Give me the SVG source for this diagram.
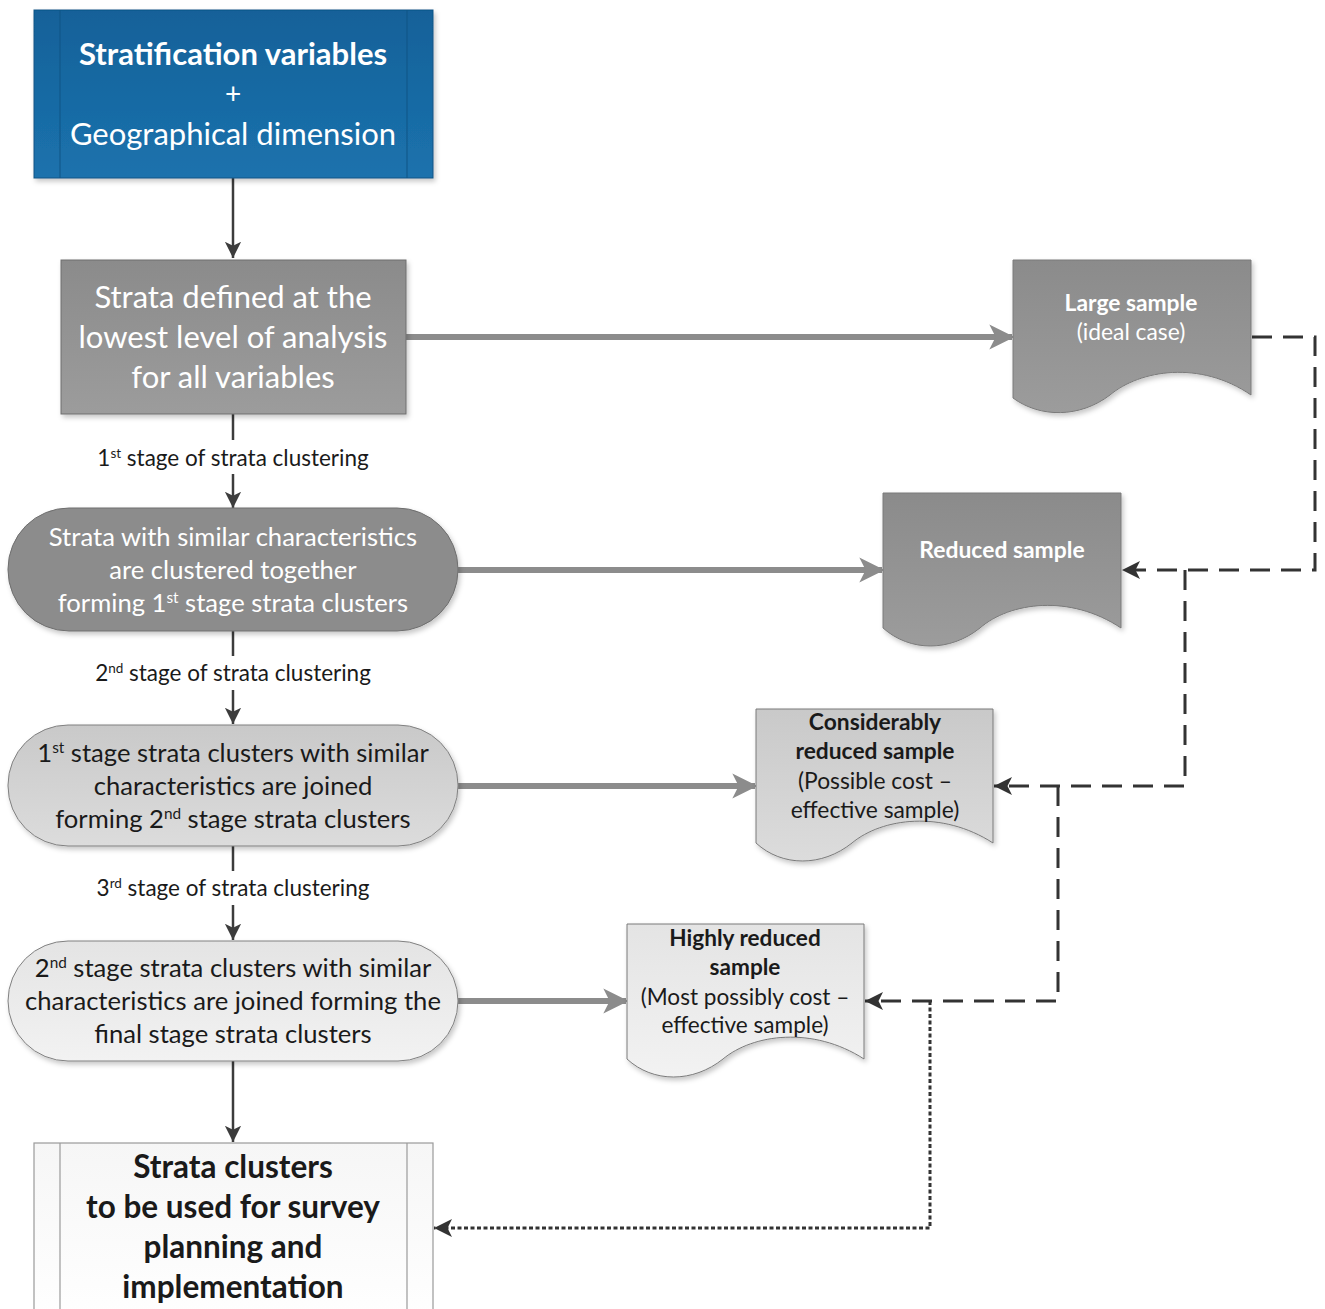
<svg xmlns="http://www.w3.org/2000/svg" width="1325" height="1309" viewBox="0 0 1325 1309">
<style>
.t{font-family:Lato,"Open Sans","Liberation Sans",sans-serif;text-anchor:middle}
.w{fill:#ffffff}
.k{fill:#1a1a1a}
.b{font-weight:bold}
.lbl{font-size:22.5px;fill:#1a1a1a}
.sup{font-size:60%}
.dk{stroke:#3c3c3c;stroke-width:2.5;fill:none}
.gr{stroke:#8c8c8c;stroke-width:6;fill:none}
.dash1{stroke:#333;stroke-width:3;fill:none;stroke-dasharray:20 11}
.dash2{stroke:#333;stroke-width:3;fill:none;stroke-dasharray:4 2.5}
</style>
<defs>
<linearGradient id="gBlue" x1="0" y1="0" x2="0" y2="1"><stop offset="0" stop-color="#156199"/><stop offset="1" stop-color="#1b72ad"/></linearGradient>
<linearGradient id="gGray" x1="0" y1="0" x2="0" y2="1"><stop offset="0" stop-color="#8b8b8b"/><stop offset="1" stop-color="#9c9c9c"/></linearGradient>
<linearGradient id="gLight" x1="0" y1="0" x2="0" y2="1"><stop offset="0" stop-color="#c9c9c9"/><stop offset="1" stop-color="#dcdcdc"/></linearGradient>
<linearGradient id="gLighter" x1="0" y1="0" x2="0" y2="1"><stop offset="0" stop-color="#e4e4e4"/><stop offset="1" stop-color="#f2f2f2"/></linearGradient>
<linearGradient id="gWhite" x1="0" y1="0" x2="0" y2="1"><stop offset="0" stop-color="#f6f6f6"/><stop offset="1" stop-color="#ffffff"/></linearGradient>
<filter id="sh" x="-5%" y="-5%" width="115%" height="120%"><feDropShadow dx="2" dy="3" stdDeviation="2.5" flood-color="#000" flood-opacity="0.22"/></filter>
<marker id="ah" viewBox="0 0 10 10" refX="10" refY="5" markerWidth="6.5" markerHeight="6.5" markerUnits="strokeWidth" orient="auto"><path d="M0,0 L10,5 L0,10 L2.5,5 Z" fill="#3c3c3c"/></marker>
<marker id="ahg" viewBox="0 0 10 10" refX="9" refY="5" markerWidth="5" markerHeight="4.2" markerUnits="strokeWidth" orient="auto"><path d="M0,0 L10,5 L0,10 L2.5,5 Z" fill="#8c8c8c"/></marker>
<marker id="ahd" viewBox="0 0 10 10" refX="10" refY="5" markerWidth="6" markerHeight="6" markerUnits="strokeWidth" orient="auto"><path d="M0,0 L10,5 L0,10 L2.5,5 Z" fill="#333"/></marker>
</defs>

<g id="connectors">
<line class="dk" x1="233" y1="178" x2="233" y2="258" marker-end="url(#ah)"/>
<line class="dk" x1="233" y1="414" x2="233" y2="440"/>
<line class="dk" x1="233" y1="474" x2="233" y2="508" marker-end="url(#ah)"/>
<line class="dk" x1="233" y1="631" x2="233" y2="656"/>
<line class="dk" x1="233" y1="690" x2="233" y2="724" marker-end="url(#ah)"/>
<line class="dk" x1="233" y1="846" x2="233" y2="871"/>
<line class="dk" x1="233" y1="905" x2="233" y2="940" marker-end="url(#ah)"/>
<line class="dk" x1="233" y1="1061" x2="233" y2="1142" marker-end="url(#ah)"/>
<line class="gr" x1="406" y1="337" x2="1012" y2="337" marker-end="url(#ahg)"/>
<line class="gr" x1="458" y1="570" x2="882" y2="570" marker-end="url(#ahg)"/>
<line class="gr" x1="458" y1="786" x2="755" y2="786" marker-end="url(#ahg)"/>
<line class="gr" x1="458" y1="1001" x2="626" y2="1001" marker-end="url(#ahg)"/>
<path class="dash1" d="M1252,337 H1315 V570 H1122" marker-end="url(#ahd)"/>
<path class="dash1" d="M1185,570 V786 H994" marker-end="url(#ahd)"/>
<path class="dash1" d="M1058,786 V1001 H865" marker-end="url(#ahd)"/>
<path class="dash2" d="M930,1001 V1228 H434" marker-end="url(#ahd)"/>
</g>

<g id="n_top">
<rect x="34" y="10" width="399" height="168" fill="url(#gBlue)" stroke="#0f5585" stroke-width="1" filter="url(#sh)"/>
<line x1="60" y1="10" x2="60" y2="178" stroke="#0f5585" stroke-width="1"/>
<line x1="407" y1="10" x2="407" y2="178" stroke="#0f5585" stroke-width="1"/>
<text class="t w b" x="233" y="65" font-size="31">Stratification variables</text>
<text class="t w" x="233" y="104" font-size="28">+</text>
<text class="t w" x="233" y="145" font-size="31">Geographical dimension</text>
</g>

<g id="n_strata">
<rect x="61" y="260" width="345" height="154" fill="url(#gGray)" stroke="#6e6e6e" stroke-width="1" filter="url(#sh)"/>
<text class="t w" x="233" y="308" font-size="31">Strata defined at the</text>
<text class="t w" x="233" y="348" font-size="31">lowest level of analysis</text>
<text class="t w" x="233" y="388" font-size="31">for all variables</text>
</g>

<text class="t lbl" x="233" y="466">1<tspan class="sup" baseline-shift="super">st</tspan> stage of strata clustering</text>
<text class="t lbl" x="233" y="681">2<tspan class="sup" baseline-shift="super">nd</tspan> stage of strata clustering</text>
<text class="t lbl" x="233" y="896">3<tspan class="sup" baseline-shift="super">rd</tspan> stage of strata clustering</text>

<g id="n_cluster1">
<rect x="8" y="508" width="450" height="123" rx="61" ry="61" fill="#8c8c8c" stroke="#6e6e6e" stroke-width="1" filter="url(#sh)"/>
<text class="t w" x="233" y="546" font-size="25.6">Strata with similar characteristics</text>
<text class="t w" x="233" y="579" font-size="25.6">are clustered together</text>
<text class="t w" x="233" y="612" font-size="25.6">forming 1<tspan class="sup" baseline-shift="super">st</tspan> stage strata clusters</text>
</g>

<g id="n_cluster2">
<rect x="8" y="725" width="450" height="121" rx="60" ry="60" fill="url(#gLight)" stroke="#808080" stroke-width="1" filter="url(#sh)"/>
<text class="t k" x="233" y="762" font-size="25.6">1<tspan class="sup" baseline-shift="super">st</tspan> stage strata clusters with similar</text>
<text class="t k" x="233" y="795" font-size="25.6">characteristics are joined</text>
<text class="t k" x="233" y="828" font-size="25.6">forming 2<tspan class="sup" baseline-shift="super">nd</tspan> stage strata clusters</text>
</g>

<g id="n_cluster3">
<rect x="8" y="941" width="450" height="120" rx="60" ry="60" fill="url(#gLighter)" stroke="#808080" stroke-width="1" filter="url(#sh)"/>
<text class="t k" x="233" y="977" font-size="25.6">2<tspan class="sup" baseline-shift="super">nd</tspan> stage strata clusters with similar</text>
<text class="t k" x="233" y="1010" font-size="25.6">characteristics are joined forming the</text>
<text class="t k" x="233" y="1043" font-size="25.6">final stage strata clusters</text>
</g>

<g id="n_final">
<rect x="34" y="1143" width="399" height="180" fill="url(#gWhite)" stroke="#9a9a9a" stroke-width="1.2"/>
<line x1="60" y1="1143" x2="60" y2="1309" stroke="#9a9a9a" stroke-width="1.2"/>
<line x1="407" y1="1143" x2="407" y2="1309" stroke="#9a9a9a" stroke-width="1.2"/>
<text class="t k b" x="233" y="1178" font-size="31.5">Strata clusters</text>
<text class="t k b" x="233" y="1218" font-size="31.5">to be used for survey</text>
<text class="t k b" x="233" y="1258" font-size="31.5">planning and</text>
<text class="t k b" x="233" y="1298" font-size="31.5">implementation</text>
</g>

<g id="n_large">
<path d="M1013,260 H1251 V395 C1200,360 1140,370 1110,395 C1080,418 1040,418 1013,398 Z" fill="url(#gGray)" stroke="#7a7a7a" stroke-width="1" filter="url(#sh)"/>
<text class="t w b" x="1131" y="311" font-size="22.8">Large sample</text>
<text class="t w" x="1131" y="340" font-size="22.8">(ideal case)</text>
</g>

<g id="n_reduced">
<path d="M883,493 H1121 V628 C1070,594 1010,602 980,628 C950,652 910,652 883,628 Z" fill="url(#gGray)" stroke="#7a7a7a" stroke-width="1" filter="url(#sh)"/>
<text class="t w b" x="1002" y="558" font-size="22.9">Reduced sample</text>
</g>

<g id="n_consid">
<path d="M756,709 H993 V843 C942,810 882,818 852,843 C822,867 782,867 756,843 Z" fill="url(#gLight)" stroke="#7a7a7a" stroke-width="1" filter="url(#sh)"/>
<text class="t k b" x="875" y="730" font-size="22.8">Considerably</text>
<text class="t k b" x="875" y="759" font-size="22.8">reduced sample</text>
<text class="t k" x="875" y="789" font-size="22.8">(Possible cost –</text>
<text class="t k" x="875" y="818" font-size="22.8">effective sample)</text>
</g>

<g id="n_highly">
<path d="M627,924 H864 V1059 C813,1026 753,1034 723,1059 C693,1083 653,1083 627,1059 Z" fill="url(#gLighter)" stroke="#7a7a7a" stroke-width="1" filter="url(#sh)"/>
<text class="t k b" x="745" y="946" font-size="22.6">Highly reduced</text>
<text class="t k b" x="745" y="975" font-size="22.6">sample</text>
<text class="t k" x="745" y="1005" font-size="22.6">(Most possibly cost –</text>
<text class="t k" x="745" y="1033" font-size="22.6">effective sample)</text>
</g>
</svg>
